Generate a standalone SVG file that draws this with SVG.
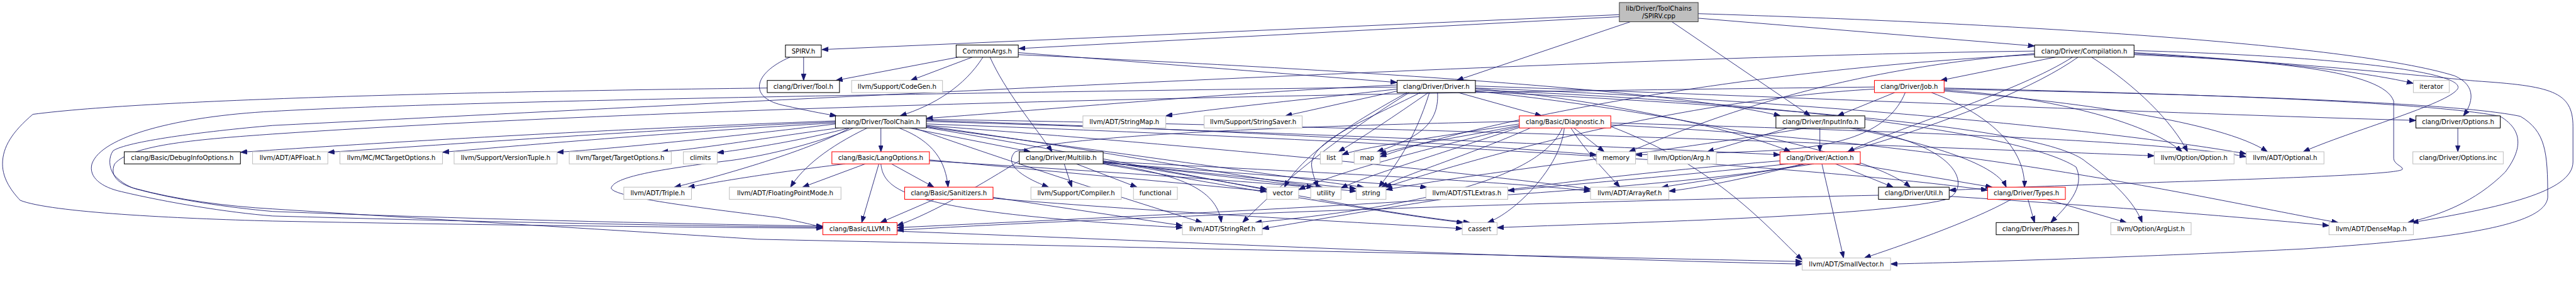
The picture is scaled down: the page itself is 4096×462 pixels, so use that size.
<svg xmlns="http://www.w3.org/2000/svg" width="4096" height="462" viewBox="0 0 4096 462">
<defs>
<marker id="a" viewBox="0 0 10 10" refX="10" refY="5" markerWidth="13" markerHeight="9.5" orient="auto" markerUnits="userSpaceOnUse" preserveAspectRatio="none"><path d="M0,0L10,5L0,10z" fill="#191970" stroke="#191970" stroke-width="1"/></marker>
</defs>
<style>
.e path{fill:none;stroke:#191970;stroke-width:1.1;marker-end:url(#a)}
.n rect{fill:#fff;stroke-width:1.3}
.b rect{stroke:#000}
.g rect{stroke:#bfbfbf}
.r rect{stroke:#ff0000}
.root rect{fill:#bfbfbf;stroke:#404040}
.n text{font-family:"DejaVu Sans",sans-serif;font-size:12.7px;text-anchor:middle;fill:#000}
</style>
<rect width="4096" height="462" fill="#fff"/>
<g transform="scale(0.80314)">
<g id="edges" class="e">
<path d="M3206,29 L1627,98"/>
<path d="M3206,33 L2017,96"/>
<path d="M3228,43 L2884,159"/>
<path d="M3310,43 L3584,229"/>
<path d="M3362,36 L4028,91"/>
<path d="M3362,27 C3950,45 4650,85 4860,150 C4905,170 4895,205 4877,229"/>
<path d="M1591,113 L1591,159"/>
<path d="M1564,113 C1490,145 1480,195 1555,209 C1595,218 1625,224 1656,229"/>
<path d="M1897,113 L1655,159"/>
<path d="M1925,113 L1803,159"/>
<path d="M1946,113 C1910,170 1850,208 1782,229"/>
<path d="M1960,113 C1990,180 2045,245 2083,300"/>
<path d="M2016,104 L2766,163"/>
<path d="M2016,108 C2600,135 3300,175 3525,229"/>
<path d="M1519,174 C1000,180 300,195 65,226 C25,260 5,290 5,324 C5,355 25,380 40,396 C100,420 350,432 540,437 C900,444 1300,449 1629,451"/>
<path d="M2887,183 L3052,229"/>
<path d="M2766,180 L2545,229"/>
<path d="M2766,176 C2600,195 2400,215 2308,229"/>
<path d="M2766,168 C2400,185 2100,215 1834,234"/>
<path d="M2828,183 C2760,230 2700,270 2650,300"/>
<path d="M2846,183 C2850,250 2800,275 2726,300"/>
<path d="M2786,183 C2700,230 2580,300 2543,370"/>
<path d="M2812,183 C2700,240 2590,280 2597,330 C2600,350 2605,360 2610,370"/>
<path d="M2830,183 C2800,280 2760,330 2730,370"/>
<path d="M2766,172 C1800,185 900,200 540,220 C350,230 200,270 182,324 C175,350 200,370 241,379 C330,400 450,420 540,427 C900,437 1300,446 1629,449"/>
<path d="M2790,183 C2600,300 2500,400 2460,440"/>
<path d="M2921,175 C3200,200 3450,260 3545,300"/>
<path d="M2921,170 C3500,190 4300,225 4783,238"/>
<path d="M2921,178 C3500,200 4000,260 4110,330 C4130,370 4090,410 4060,440"/>
<path d="M2921,180 C3300,220 3700,300 3782,370"/>
<path d="M2921,181 C3500,210 4050,250 4130,320 C4200,370 4230,410 4241,440"/>
<path d="M2921,174 C3600,200 4200,260 4447,304"/>
<path d="M3751,183 L3638,229"/>
<path d="M3824,183 C3950,230 4010,300 4008,370"/>
<path d="M3772,183 C3740,260 3650,290 3500,298 C3400,303 3300,305 3238,306"/>
<path d="M3849,178 C4050,190 4250,240 4320,300"/>
<path d="M3849,180 C4100,200 4400,240 4489,300"/>
<path d="M3849,174 C4300,185 4800,200 4950,230 C5000,260 4990,300 4960,340 C4900,400 4830,425 4767,440"/>
<path d="M3849,176 C4300,185 4850,200 4990,230 C5040,260 5044,300 5044,390 C5040,440 4900,470 4560,492 C4200,510 3900,518 3743,522"/>
<path d="M3711,176 C3300,200 2900,320 2742,370"/>
<path d="M3711,172 C3000,180 1500,200 540,265 C400,275 260,285 227,324 C215,350 240,365 265,372 C350,395 450,408 540,413 C800,430 1300,460 1500,473 C2300,490 3000,505 3568,517"/>
<path d="M4069,113 L3842,159"/>
<path d="M4103,113 C4000,180 3750,255 3658,300"/>
<path d="M4114,113 C3950,230 3500,355 3304,378"/>
<path d="M4141,113 C4230,170 4300,240 4331,300"/>
<path d="M4225,104 C4500,120 4700,145 4778,165"/>
<path d="M4225,100 C4600,110 4880,140 4866,175 C4850,205 4650,260 4560,300"/>
<path d="M4225,106 C4500,120 4800,150 4900,160 C5050,170 5094,180 5094,250 L5094,320 C5094,380 4950,410 4775,440"/>
<path d="M4225,108 C4500,120 4720,140 4739,200 L4739,313 C4739,325 4760,330 4756,335 C4740,350 4200,360 3859,376"/>
<path d="M4028,106 C3600,140 3350,250 3225,300"/>
<path d="M4028,108 C3400,140 2900,250 2732,310"/>
<path d="M4028,101 C3200,110 1500,200 540,248 C400,260 250,280 224,298 C215,310 215,330 225,345 C240,362 260,372 275,375 C350,395 450,410 540,418 C900,432 1300,442 1629,447"/>
<path d="M3603,253 L3603,300"/>
<path d="M3662,253 C3800,280 3950,320 3972,370"/>
<path d="M3540,253 L3380,300"/>
<path d="M3576,253 C3300,300 2900,345 2744,375"/>
<path d="M3670,253 C3900,290 3900,380 3850,395 C3700,430 3200,440 2964,450"/>
<path d="M3607,324 L3650,510"/>
<path d="M3634,324 L3748,370"/>
<path d="M3669,324 L3944,370"/>
<path d="M3576,324 C3300,380 2400,420 1776,450"/>
<path d="M3591,324 L3290,370"/>
<path d="M3540,324 C3300,350 3100,365 2985,377"/>
<path d="M3524,318 C3000,360 2700,420 2499,452"/>
<path d="M3116,253 L3176,300"/>
<path d="M3110,253 C3140,300 3180,340 3207,370"/>
<path d="M3093,253 C3060,330 2900,400 2485,440"/>
<path d="M3097,253 C3090,330 3000,420 2945,440"/>
<path d="M3008,245 C2850,270 2700,290 2657,306"/>
<path d="M3008,248 C2900,270 2790,285 2732,305"/>
<path d="M3008,250 C2800,300 2650,340 2571,375"/>
<path d="M3008,252 C2800,320 2700,350 2655,372"/>
<path d="M3030,253 C2900,310 2780,345 2735,370"/>
<path d="M3008,240 C2500,250 2100,270 2010,300 C1990,320 2010,345 2076,370"/>
<path d="M3189,243 C3800,260 4300,280 4447,310"/>
<path d="M3189,247 C3900,280 4400,400 4629,440"/>
<path d="M3189,250 C3400,330 3500,450 3568,514"/>
<path d="M2107,324 L2122,370"/>
<path d="M2131,324 L2251,370"/>
<path d="M2184,318 L2508,374"/>
<path d="M2184,320 L2600,370"/>
<path d="M2184,321 L2685,373"/>
<path d="M2184,322 L2825,370"/>
<path d="M2184,323 C2350,345 2410,380 2418,440"/>
<path d="M2018,318 C1950,360 1850,420 1776,446"/>
<path d="M2184,324 C2500,380 2800,430 2897,440"/>
<path d="M2184,319 C2600,340 3000,360 3149,378"/>
<path d="M1713,324 L1589,370"/>
<path d="M1740,324 L1706,440"/>
<path d="M1765,324 L1849,370"/>
<path d="M1673,324 C1500,345 1420,360 1362,370"/>
<path d="M1744,324 C1750,380 1800,420 2341,450"/>
<path d="M1840,318 C2200,340 2500,360 2685,378"/>
<path d="M1840,316 L2508,378"/>
<path d="M1850,394 L1743,440"/>
<path d="M1966,390 L2341,446"/>
<path d="M1966,392 C2300,420 2700,440 2895,452"/>
<path d="M1654,239 C1200,255 700,285 476,301"/>
<path d="M1654,241 C1300,255 900,285 649,301"/>
<path d="M1654,243 C1350,260 1000,290 876,301"/>
<path d="M1654,245 C1450,270 1200,295 1103,301"/>
<path d="M1660,253 C1500,275 1380,295 1310,300"/>
<path d="M1680,253 C1580,280 1460,297 1420,302"/>
<path d="M1682,253 C1600,300 1400,355 1335,370"/>
<path d="M1717,253 C1640,290 1590,330 1565,370"/>
<path d="M1744,253 L1744,300"/>
<path d="M1780,253 C1850,280 1872,320 1877,370"/>
<path d="M1800,253 L2040,300"/>
<path d="M1690,253 C1600,290 1500,310 1448,317 C1300,335 1215,350 1210,372 C1215,390 1380,410 1540,430 C1580,437 1610,445 1629,449"/>
<path d="M1834,240 C2500,260 3200,290 3524,306"/>
<path d="M1834,245 C2800,280 3600,330 3935,376"/>
<path d="M1834,248 C2400,290 2900,340 3149,374"/>
<path d="M1834,236 C2800,250 3800,290 4265,308"/>
<path d="M1810,253 C2000,320 2250,400 2380,440"/>
<path d="M1834,252 C2300,330 2700,420 2910,440"/>
<path d="M1834,238 C2400,255 2900,285 3161,306"/>
<path d="M1834,251 C2200,300 2550,350 2700,370"/>
<path d="M1834,249 C2200,300 2450,350 2618,370"/>
<path d="M4015,394 L4028,440"/>
<path d="M3982,394 C3900,440 3750,490 3691,510"/>
<path d="M4052,394 L4210,440"/>
<path d="M3719,386 C3000,400 2200,430 1776,455"/>
<path d="M3859,388 C4200,410 4450,430 4611,446"/>
<path d="M4866,253 L4866,300"/>
<path d="M1776,457 C2400,480 3000,510 3568,522"/>
</g>
<g id="n_top" class="n root"><rect x="3206" y="5" width="156" height="38"/><text x="3284" y="21">lib/Driver/ToolChains</text><text x="3284" y="36">/SPIRV.cpp</text></g>
<g id="n_spirvh" class="n b"><rect x="1555" y="89" width="71" height="24"/><text x="1590.5" y="105.5">SPIRV.h</text></g>
<g id="n_commonargs" class="n b"><rect x="1893" y="89" width="123" height="24"/><text x="1954.5" y="105.5">CommonArgs.h</text></g>
<g id="n_compilation" class="n b"><rect x="4028" y="89" width="197" height="24"/><text x="4126.5" y="105.5">clang/Driver/Compilation.h</text></g>
<g id="n_tool" class="n b"><rect x="1519" y="159" width="143" height="24"/><text x="1590.5" y="175.5">clang/Driver/Tool.h</text></g>
<g id="n_codegen" class="n g"><rect x="1686" y="159" width="180" height="24"/><text x="1776" y="175.5">llvm/Support/CodeGen.h</text></g>
<g id="n_driver" class="n b"><rect x="2766" y="159" width="155" height="24"/><text x="2843.5" y="175.5">clang/Driver/Driver.h</text></g>
<g id="n_job" class="n r"><rect x="3711" y="159" width="138" height="24"/><text x="3780" y="175.5">clang/Driver/Job.h</text></g>
<g id="n_iterator" class="n g"><rect x="4778" y="159" width="71" height="24"/><text x="4813.5" y="175.5">iterator</text></g>
<g id="n_toolchain" class="n b"><rect x="1654" y="229" width="180" height="24"/><text x="1744" y="245.5">clang/Driver/ToolChain.h</text></g>
<g id="n_stringmap" class="n g"><rect x="2144" y="229" width="164" height="24"/><text x="2226" y="245.5">llvm/ADT/StringMap.h</text></g>
<g id="n_stringsaver" class="n g"><rect x="2384" y="229" width="194" height="24"/><text x="2481" y="245.5">llvm/Support/StringSaver.h</text></g>
<g id="n_diagnostic" class="n r"><rect x="3008" y="229" width="181" height="24"/><text x="3098.5" y="245.5">clang/Basic/Diagnostic.h</text></g>
<g id="n_inputinfo" class="n b"><rect x="3516" y="229" width="176" height="24"/><text x="3604" y="245.5">clang/Driver/InputInfo.h</text></g>
<g id="n_options" class="n b"><rect x="4783" y="229" width="167" height="24"/><text x="4866.5" y="245.5">clang/Driver/Options.h</text></g>
<g id="n_debuginfo" class="n b"><rect x="246" y="300" width="230" height="24"/><text x="361" y="316.5">clang/Basic/DebugInfoOptions.h</text></g>
<g id="n_apfloat" class="n g"><rect x="500" y="300" width="149" height="24"/><text x="574.5" y="316.5">llvm/ADT/APFloat.h</text></g>
<g id="n_mctarget" class="n g"><rect x="673" y="300" width="203" height="24"/><text x="774.5" y="316.5">llvm/MC/MCTargetOptions.h</text></g>
<g id="n_versiontuple" class="n g"><rect x="899" y="300" width="204" height="24"/><text x="1001" y="316.5">llvm/Support/VersionTuple.h</text></g>
<g id="n_targetoptions" class="n g"><rect x="1127" y="300" width="202" height="24"/><text x="1228" y="316.5">llvm/Target/TargetOptions.h</text></g>
<g id="n_climits" class="n g"><rect x="1353" y="300" width="67" height="24"/><text x="1386.5" y="316.5">climits</text></g>
<g id="n_langoptions" class="n r"><rect x="1647" y="300" width="193" height="24"/><text x="1743.5" y="316.5">clang/Basic/LangOptions.h</text></g>
<g id="n_multilib" class="n b"><rect x="2018" y="300" width="166" height="24"/><text x="2101" y="316.5">clang/Driver/Multilib.h</text></g>
<g id="n_list" class="n g"><rect x="2614" y="300" width="43" height="24"/><text x="2635.5" y="316.5">list</text></g>
<g id="n_map" class="n g"><rect x="2681" y="300" width="51" height="24"/><text x="2706.5" y="316.5">map</text></g>
<g id="n_memory" class="n g"><rect x="3161" y="300" width="77" height="24"/><text x="3199.5" y="316.5">memory</text></g>
<g id="n_arg" class="n g"><rect x="3262" y="300" width="136" height="24"/><text x="3330" y="316.5">llvm/Option/Arg.h</text></g>
<g id="n_action" class="n r"><rect x="3524" y="300" width="159" height="24"/><text x="3603.5" y="316.5">clang/Driver/Action.h</text></g>
<g id="n_option" class="n g"><rect x="4265" y="300" width="158" height="24"/><text x="4344" y="316.5">llvm/Option/Option.h</text></g>
<g id="n_optional" class="n g"><rect x="4447" y="300" width="154" height="24"/><text x="4524" y="316.5">llvm/ADT/Optional.h</text></g>
<g id="n_optionsinc" class="n g"><rect x="4777" y="300" width="179" height="24"/><text x="4866.5" y="316.5">clang/Driver/Options.inc</text></g>
<g id="n_triple" class="n g"><rect x="1235" y="370" width="134" height="24"/><text x="1302" y="386.5">llvm/ADT/Triple.h</text></g>
<g id="n_fpmode" class="n g"><rect x="1444" y="370" width="221" height="24"/><text x="1554.5" y="386.5">llvm/ADT/FloatingPointMode.h</text></g>
<g id="n_sanitizers" class="n r"><rect x="1791" y="370" width="175" height="24"/><text x="1878.5" y="386.5">clang/Basic/Sanitizers.h</text></g>
<g id="n_compiler" class="n g"><rect x="2041" y="370" width="179" height="24"/><text x="2130.5" y="386.5">llvm/Support/Compiler.h</text></g>
<g id="n_functional" class="n g"><rect x="2244" y="370" width="87" height="24"/><text x="2287.5" y="386.5">functional</text></g>
<g id="n_vector" class="n g"><rect x="2508" y="370" width="63" height="24"/><text x="2539.5" y="386.5">vector</text></g>
<g id="n_utility" class="n g"><rect x="2595" y="370" width="60" height="24"/><text x="2625" y="386.5">utility</text></g>
<g id="n_string" class="n g"><rect x="2685" y="370" width="59" height="24"/><text x="2714.5" y="386.5">string</text></g>
<g id="n_stlextras" class="n g"><rect x="2823" y="370" width="162" height="24"/><text x="2904" y="386.5">llvm/ADT/STLExtras.h</text></g>
<g id="n_arrayref" class="n g"><rect x="3149" y="370" width="155" height="24"/><text x="3226.5" y="386.5">llvm/ADT/ArrayRef.h</text></g>
<g id="n_util" class="n b"><rect x="3719" y="370" width="140" height="24"/><text x="3789" y="386.5">clang/Driver/Util.h</text></g>
<g id="n_types" class="n r"><rect x="3935" y="370" width="154" height="24"/><text x="4012" y="386.5">clang/Driver/Types.h</text></g>
<g id="n_llvm" class="n r"><rect x="1629" y="440" width="147" height="24"/><text x="1702.5" y="456.5">clang/Basic/LLVM.h</text></g>
<g id="n_stringref" class="n g"><rect x="2341" y="440" width="158" height="24"/><text x="2420" y="456.5">llvm/ADT/StringRef.h</text></g>
<g id="n_cassert" class="n g"><rect x="2895" y="440" width="69" height="24"/><text x="2929.5" y="456.5">cassert</text></g>
<g id="n_phases" class="n b"><rect x="3952" y="440" width="163" height="24"/><text x="4033.5" y="456.5">clang/Driver/Phases.h</text></g>
<g id="n_arglist" class="n g"><rect x="4179" y="440" width="159" height="24"/><text x="4258.5" y="456.5">llvm/Option/ArgList.h</text></g>
<g id="n_densemap" class="n g"><rect x="4611" y="440" width="167" height="24"/><text x="4694.5" y="456.5">llvm/ADT/DenseMap.h</text></g>
<g id="n_smallvector" class="n g"><rect x="3568" y="510" width="175" height="24"/><text x="3655.5" y="526.5">llvm/ADT/SmallVector.h</text></g>
</g>
</svg>
